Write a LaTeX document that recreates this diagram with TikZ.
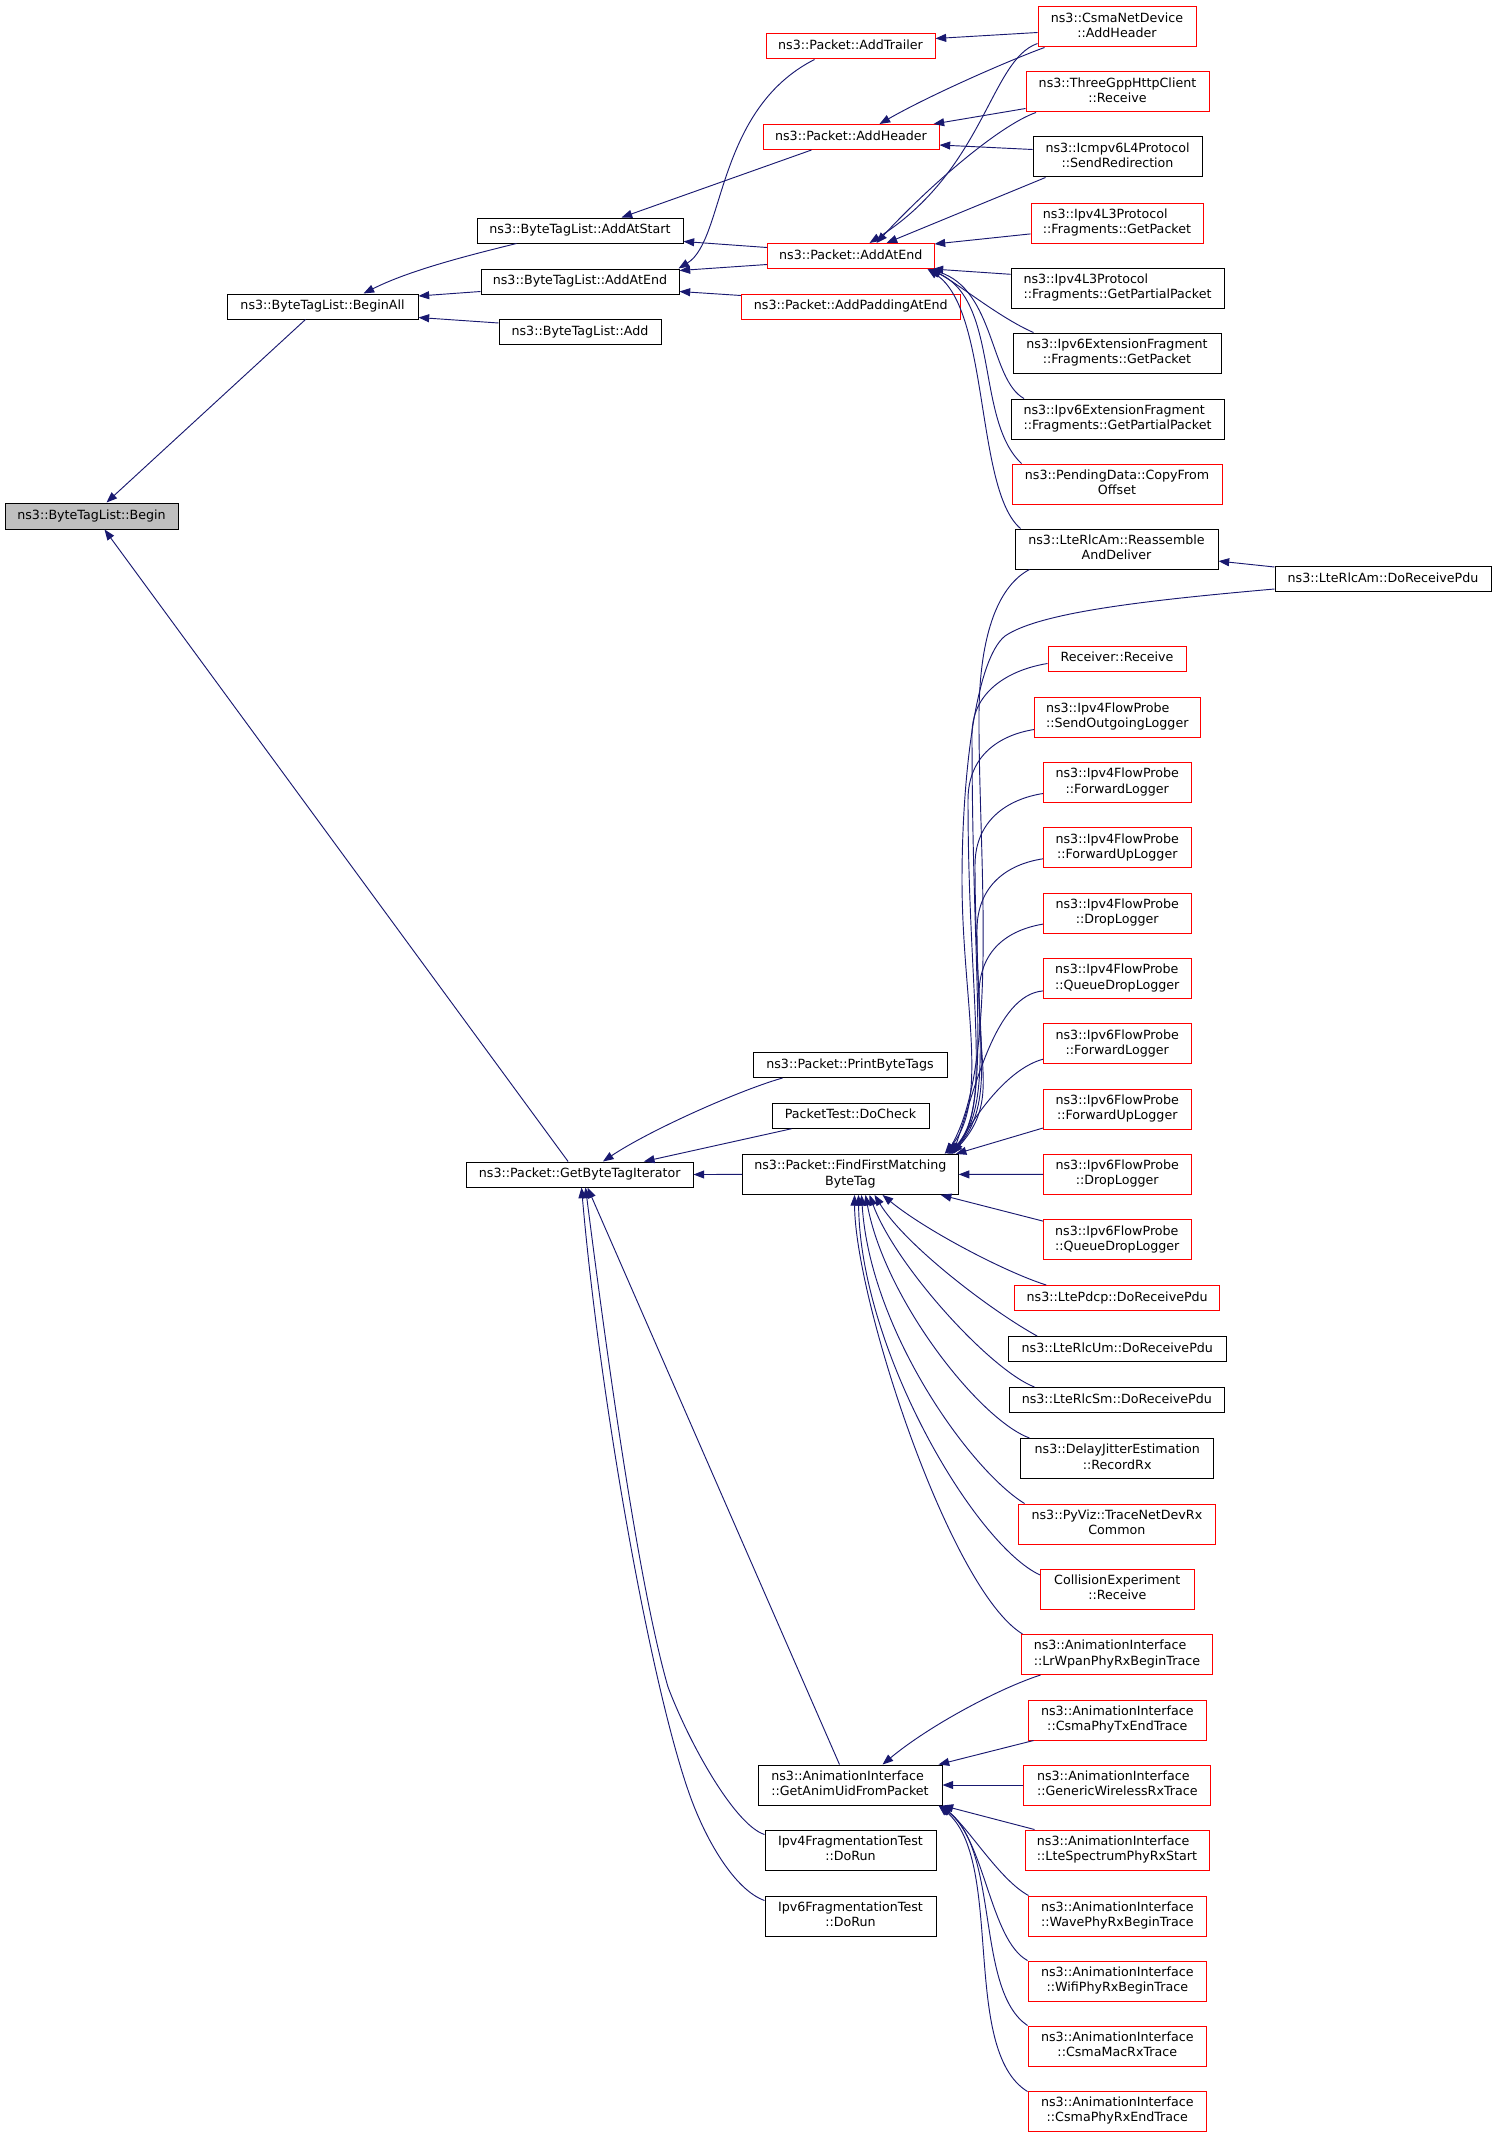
\documentclass[tikz,border=0pt]{standalone}
\usepackage{fontspec}
\setmainfont{DejaVu Sans}
\usetikzlibrary{arrows.meta,calc}
\definecolor{dxblue}{HTML}{191970}
\definecolor{dxred}{HTML}{FF0000}
\definecolor{dxgray}{HTML}{BFBFBF}
\newcommand\onel[1]{\begin{tabular}{@{}c@{}}#1\end{tabular}}
\newcommand\twol[2]{\begin{tabular}{@{}l@{}}#1\\\multicolumn{1}{@{}c@{}}{#2}\end{tabular}}
\tikzset{
  box/.style={draw=black, line width=0.75pt, fill=white, inner sep=0pt, text=black,
    font=\fontsize{9.5}{11.4}\selectfont},
  rbox/.style={box, draw=dxred},
  sz/.style 2 args={minimum width=#1*0.75pt, minimum height=#2*0.75pt},
  e/.style={draw=dxblue, line width=0.7pt, -{Triangle[length=8pt,width=6pt]}}
}
\begin{document}
\begin{tikzpicture}[x=0.75pt,y=-0.75pt]
\useasboundingbox (0,0) rectangle (1496,2137);
% ---------- nodes ----------
\node[box,sz={173}{26},fill=dxgray] (begin) at (91.5,516) {\onel{ns3::ByteTagList::Begin}};
\node[box,sz={191}{25}] (beginall) at (322.5,306.5) {\onel{ns3::ByteTagList::BeginAll}};
\node[box,sz={206}{25}] (baddstart) at (580,230.5) {\onel{ns3::ByteTagList::AddAtStart}};
\node[box,sz={198}{25}] (baddend) at (580,281.5) {\onel{ns3::ByteTagList::AddAtEnd}};
\node[box,sz={162}{25}] (badd) at (580,332) {\onel{ns3::ByteTagList::Add}};
\node[rbox,sz={169}{25}] (ptrailer) at (850.5,46.5) {\onel{ns3::Packet::AddTrailer}};
\node[rbox,sz={176}{25}] (pheader) at (851,137) {\onel{ns3::Packet::AddHeader}};
\node[rbox,sz={166.5}{25}] (patend) at (850.75,256) {\onel{ns3::Packet::AddAtEnd}};
\node[rbox,sz={218.5}{25}] (ppad) at (850.75,306.5) {\onel{ns3::Packet::AddPaddingAtEnd}};
\node[rbox,sz={158}{40}] (csma) at (1117,27) {\twol{ns3::CsmaNetDevice}{::AddHeader}};
\node[rbox,sz={183}{40}] (three) at (1117.5,92) {\twol{ns3::ThreeGppHttpClient}{::Receive}};
\node[box,sz={169}{40}] (icmp) at (1117.5,157) {\twol{ns3::Icmpv6L4Protocol}{::SendRedirection}};
\node[rbox,sz={172}{40}] (v4get) at (1117,223) {\twol{ns3::Ipv4L3Protocol}{::Fragments::GetPacket}};
\node[box,sz={213}{40}] (v4part) at (1117.5,288) {\twol{ns3::Ipv4L3Protocol}{::Fragments::GetPartialPacket}};
\node[box,sz={208}{40}] (v6get) at (1117,353) {\twol{ns3::Ipv6ExtensionFragment}{::Fragments::GetPacket}};
\node[box,sz={213}{40}] (v6part) at (1117.5,419) {\twol{ns3::Ipv6ExtensionFragment}{::Fragments::GetPartialPacket}};
\node[rbox,sz={210}{40}] (pending) at (1117,484) {\twol{ns3::PendingData::CopyFrom}{Offset}};
\node[box,sz={203}{40}] (reasm) at (1116.5,549) {\twol{ns3::LteRlcAm::Reassemble}{AndDeliver}};
\node[box,sz={216}{25}] (amrx) at (1383,579) {\onel{ns3::LteRlcAm::DoReceivePdu}};
\node[rbox,sz={138}{25}] (receiver) at (1117,658.5) {\onel{Receiver::Receive}};
\node[rbox,sz={165.5}{40}] (v4send) at (1117.25,717) {\twol{ns3::Ipv4FlowProbe}{::SendOutgoingLogger}};
\node[rbox,sz={147.5}{40}] (v4fwd) at (1117.25,782.5) {\twol{ns3::Ipv4FlowProbe}{::ForwardLogger}};
\node[rbox,sz={147.5}{40}] (v4fwdup) at (1117.25,847.8) {\twol{ns3::Ipv4FlowProbe}{::ForwardUpLogger}};
\node[rbox,sz={147.5}{40}] (v4drop) at (1117.25,913.1) {\twol{ns3::Ipv4FlowProbe}{::DropLogger}};
\node[rbox,sz={147.5}{40}] (v4queue) at (1117.25,978.4) {\twol{ns3::Ipv4FlowProbe}{::QueueDropLogger}};
\node[rbox,sz={147.5}{40}] (v6fwd) at (1117.25,1043.7) {\twol{ns3::Ipv6FlowProbe}{::ForwardLogger}};
\node[rbox,sz={147.5}{40}] (v6fwdup) at (1117.25,1109) {\twol{ns3::Ipv6FlowProbe}{::ForwardUpLogger}};
\node[rbox,sz={147.5}{40}] (v6drop) at (1117.25,1174.3) {\twol{ns3::Ipv6FlowProbe}{::DropLogger}};
\node[rbox,sz={147.5}{40}] (v6queue) at (1117.25,1239.6) {\twol{ns3::Ipv6FlowProbe}{::QueueDropLogger}};
\node[rbox,sz={205}{25}] (pdcp) at (1117.2,1298) {\onel{ns3::LtePdcp::DoReceivePdu}};
\node[box,sz={217.4}{25}] (rlcum) at (1117.3,1349) {\onel{ns3::LteRlcUm::DoReceivePdu}};
\node[box,sz={214.4}{25}] (rlcsm) at (1116.8,1400) {\onel{ns3::LteRlcSm::DoReceivePdu}};
\node[box,sz={193}{40}] (delay) at (1117.2,1458.5) {\twol{ns3::DelayJitterEstimation}{::RecordRx}};
\node[rbox,sz={197.7}{40}] (pyviz) at (1116.9,1524) {\twol{ns3::PyViz::TraceNetDevRx}{Common}};
\node[rbox,sz={153.4}{40}] (collision) at (1117.3,1589) {\twol{CollisionExperiment}{::Receive}};
\node[rbox,sz={191.7}{40}] (lrwpan) at (1116.9,1654.5) {\twol{ns3::AnimationInterface}{::LrWpanPhyRxBeginTrace}};
\node[rbox,sz={178.6}{40}] (csmatx) at (1117.3,1720) {\twol{ns3::AnimationInterface}{::CsmaPhyTxEndTrace}};
\node[rbox,sz={186.7}{40}] (generic) at (1117.3,1785) {\twol{ns3::AnimationInterface}{::GenericWirelessRxTrace}};
\node[rbox,sz={184}{40}] (ltespec) at (1117,1850) {\twol{ns3::AnimationInterface}{::LteSpectrumPhyRxStart}};
\node[rbox,sz={178.6}{40}] (wave) at (1117.3,1916) {\twol{ns3::AnimationInterface}{::WavePhyRxBeginTrace}};
\node[rbox,sz={178.6}{40}] (wifi) at (1117.3,1981) {\twol{ns3::AnimationInterface}{::WifiPhyRxBeginTrace}};
\node[rbox,sz={178.6}{40}] (csmamac) at (1117.3,2046) {\twol{ns3::AnimationInterface}{::CsmaMacRxTrace}};
\node[rbox,sz={178.6}{40}] (csmarx) at (1117.3,2111) {\twol{ns3::AnimationInterface}{::CsmaPhyRxEndTrace}};
\node[box,sz={194}{25}] (print) at (850,1065) {\onel{ns3::Packet::PrintByteTags}};
\node[box,sz={157}{25}] (docheck) at (850.5,1115.75) {\onel{PacketTest::DoCheck}};
\node[box,sz={215.7}{40}] (ffm) at (850.35,1174.4) {\twol{ns3::Packet::FindFirstMatching}{ByteTag}};
\node[box,sz={226.6}{25}] (gbti) at (579.7,1174.5) {\onel{ns3::Packet::GetByteTagIterator}};
\node[box,sz={184}{40}] (gau) at (850,1785) {\twol{ns3::AnimationInterface}{::GetAnimUidFromPacket}};
\node[box,sz={171}{40}] (v4frag) at (850.5,1850) {\twol{Ipv4FragmentationTest}{::DoRun}};
\node[box,sz={171}{40}] (v6frag) at (850.5,1916) {\twol{Ipv6FragmentationTest}{::DoRun}};
% ---------- edges (caller -> callee, arrow at callee) ----------
\draw[e] ($(beginall.south west)+(79,0)$) -- ($(begin.north west)+(102,0)$);
\draw[e] ($(gbti.north west)+(102.2,0)$) -- ($(begin.south west)+(100,0)$);
\draw[e] ($(baddstart.south west)+(40,0)$) .. controls (470,255) and (410,270) .. ($(beginall.north west)+(137,0)$);
\draw[e] ($(baddend.south west)+(0,-3)$) -- ($(beginall.north east)+(0,2.5)$);
\draw[e] ($(badd.north west)+(0,4)$) -- ($(beginall.south east)+(0,-2)$);
\draw[e] ($(pheader.south west)+(49,0)$) -- ($(baddstart.north west)+(145,0)$);
\draw[e] ($(patend.north west)+(0,4.5)$) -- ($(baddstart.south east)+(0,-2)$);
\draw[e] ($(ptrailer.south west)+(49,0)$) .. controls (715,110) and (725,240) .. ($(baddend.north east)+(-1,0)$);
\draw[e] ($(patend.south west)+(0,-4.5)$) -- ($(baddend.north east)+(0,2)$);
\draw[e] ($(ppad.north west)+(0,2)$) -- ($(baddend.south east)+(0,-3)$);
\draw[e] ($(csma.north west)+(0,26)$) -- ($(ptrailer.north east)+(0,5)$);
\draw[e] ($(csma.south west)+(7,0)$) .. controls (1010,60) and (930,95) .. ($(pheader.north west)+(117,0)$);
\draw[e] ($(three.south west)+(0,-4)$) -- ($(pheader.north east)+(-6,0)$);
\draw[e] ($(icmp.north west)+(0,13)$) -- ($(pheader.south east)+(0,-5)$);
\draw[e] ($(csma.south west)+(0,-4)$) .. controls (990,60) and (985,170) .. ($(patend.north west)+(102.5,0)$);
\draw[e] ($(three.south west)+(10.5,0)$) .. controls (1000,125) and (930,185) .. ($(patend.north west)+(109.5,0)$);
\draw[e] ($(icmp.south west)+(13,0)$) -- ($(patend.north west)+(119.5,0)$);
\draw[e] ($(v4get.south west)+(0,-9.6)$) -- ($(patend.north east)+(0,1)$);
\draw[e] ($(v4part.north west)+(0,6.8)$) -- ($(patend.south east)+(-2,0)$);
\draw[e] ($(v6get.north west)+(21,0)$) .. controls (1000,318) and (960,285) .. ($(patend.south east)+(-4,0)$);
\draw[e] ($(v6part.north west)+(13.5,0)$) .. controls (990,380) and (995,290) .. ($(patend.south east)+(-5,0)$);
\draw[e] ($(pending.north west)+(10,0)$) .. controls (975,420) and (1000,300) .. ($(patend.south east)+(-6,0)$);
\draw[e] ($(reasm.north west)+(6,0)$) .. controls (975,490) and (990,310) .. ($(patend.south east)+(-7,0)$);
\draw[e] ($(amrx.north west)+(0,1)$) -- ($(reasm.south east)+(0,-8.4)$);
% bundle into FindFirstMatching (top)
\draw[e] ($(amrx.south west)+(0,-3)$) .. controls (1150,600) and (1040,612) .. (1005,636)
   .. controls (975,660) and (962,780) .. (962,880) .. controls (962,1000) and (990,1100) .. ($(ffm.north east)+(-14,0)$);
\draw[e] ($(reasm.south west)+(15,0)$) .. controls (1000,585) and (980,630) .. (979,712)
   .. controls (978,850) and (1000,1060) .. ($(ffm.north east)+(-12,0)$);
\draw[e] ($(receiver.north west)+(0,18)$) .. controls (1013,669) and (972,689) .. (972,734)
   .. controls (972,994) and (993,1110) .. ($(ffm.north east)+(-11,0)$);
\draw[e] ($(v4send.north west)+(0,33)$) .. controls (1000,735) and (968,755) .. (968,800)
   .. controls (968,1000) and (993,1110) .. ($(ffm.north east)+(-10,0)$);
\draw[e] ($(v4fwd.north west)+(0,31.5)$) .. controls (1008,799) and (975,820) .. (975,865)
   .. controls (975,1010) and (995,1105) .. ($(ffm.north east)+(-9,0)$);
\draw[e] ($(v4fwdup.north west)+(0,31.5)$) .. controls (1008,864) and (977,885) .. (977,930)
   .. controls (977,1040) and (996,1105) .. ($(ffm.north east)+(-8,0)$);
\draw[e] ($(v4drop.north west)+(0,31.5)$) .. controls (1008,930) and (979,950) .. (979,995)
   .. controls (979,1070) and (997,1105) .. ($(ffm.north east)+(-7,0)$);
\draw[e] ($(v4queue.north west)+(0,33)$) .. controls (995,995) and (975,1090) .. ($(ffm.north east)+(-6,0)$);
\draw[e] ($(v6fwd.north west)+(0,36)$) .. controls (1010,1068) and (978,1110) .. ($(ffm.north east)+(-5,0)$);
\draw[e] ($(v6fwdup.south west)+(0,-1.5)$) -- ($(ffm.north east)+(-3,0)$);
\draw[e] (v6drop.west) -- (ffm.east);
\draw[e] ($(v6queue.north west)+(0,2)$) -- ($(ffm.south east)+(-18,0)$);
% bundle into FindFirstMatching (bottom)
\draw[e] ($(pdcp.north west)+(32,0)$) .. controls (1005,1272) and (925,1230) .. ($(ffm.south west)+(140.5,0)$);
\draw[e] ($(rlcum.north west)+(29,0)$) .. controls (990,1310) and (905,1245) .. ($(ffm.south west)+(132.5,0)$);
\draw[e] ($(rlcsm.north west)+(25.4,0)$) .. controls (990,1370) and (895,1265) .. ($(ffm.south west)+(127.5,0)$);
\draw[e] ($(delay.north west)+(9.3,0)$) .. controls (980,1420) and (885,1300) .. ($(ffm.south west)+(123.5,0)$);
\draw[e] ($(pyviz.north west)+(7,0)$) .. controls (970,1470) and (870,1330) .. ($(ffm.south west)+(119.5,0)$);
\draw[e] ($(collision.north west)+(0,6.5)$) .. controls (975,1545) and (860,1350) .. ($(ffm.south west)+(116.5,0)$);
\draw[e] ($(lrwpan.north west)+(2,0)$) .. controls (950,1590) and (855,1300) .. ($(ffm.south west)+(112.5,0)$);
% into GetByteTagIterator
\draw[e] ($(print.south west)+(30,0)$) .. controls (740,1090) and (650,1130) .. ($(gbti.north west)+(137,0)$);
\draw[e] ($(docheck.south west)+(20,0)$) -- ($(gbti.north west)+(178,0)$);
\draw[e] (ffm.west) -- (gbti.east);
\draw[e] ($(gau.north west)+(82,0)$) -- ($(gbti.south west)+(121.6,0)$);
\draw[e] ($(v4frag.north west)+(0,5)$) .. controls (735,1825) and (690,1745) .. (668,1687)
   .. controls (640,1590) and (610,1380) .. ($(gbti.south west)+(119.6,0)$);
\draw[e] ($(v6frag.north west)+(0,5)$) .. controls (735,1890) and (705,1840) .. (688,1790)
   .. controls (650,1680) and (600,1400) .. ($(gbti.south west)+(115.6,0)$);
% into GetAnimUidFromPacket
\draw[e] ($(lrwpan.south west)+(20,0)$) .. controls (1000,1688) and (930,1725) .. ($(gau.north west)+(125,0)$);
\draw[e] ($(csmatx.south west)+(6,0)$) -- ($(gau.north east)+(-4,0)$);
\draw[e] (generic.west) -- (gau.east);
\draw[e] ($(ltespec.north west)+(10,0)$) -- (gau.south east);
\draw[e] ($(wave.north west)+(1,0)$) .. controls (1000,1880) and (970,1830) .. ($(gau.south east)+(-1,0)$);
\draw[e] (wifi.north west) .. controls (990,1940) and (985,1840) .. ($(gau.south east)+(-2,0)$);
\draw[e] (csmamac.north west) .. controls (975,1990) and (1000,1850) .. ($(gau.south east)+(-3,0)$);
\draw[e] ($(csmarx.north west)+(0,1)$) .. controls (960,2050) and (1005,1860) .. ($(gau.south east)+(-4,0)$);
\end{tikzpicture}
\end{document}
